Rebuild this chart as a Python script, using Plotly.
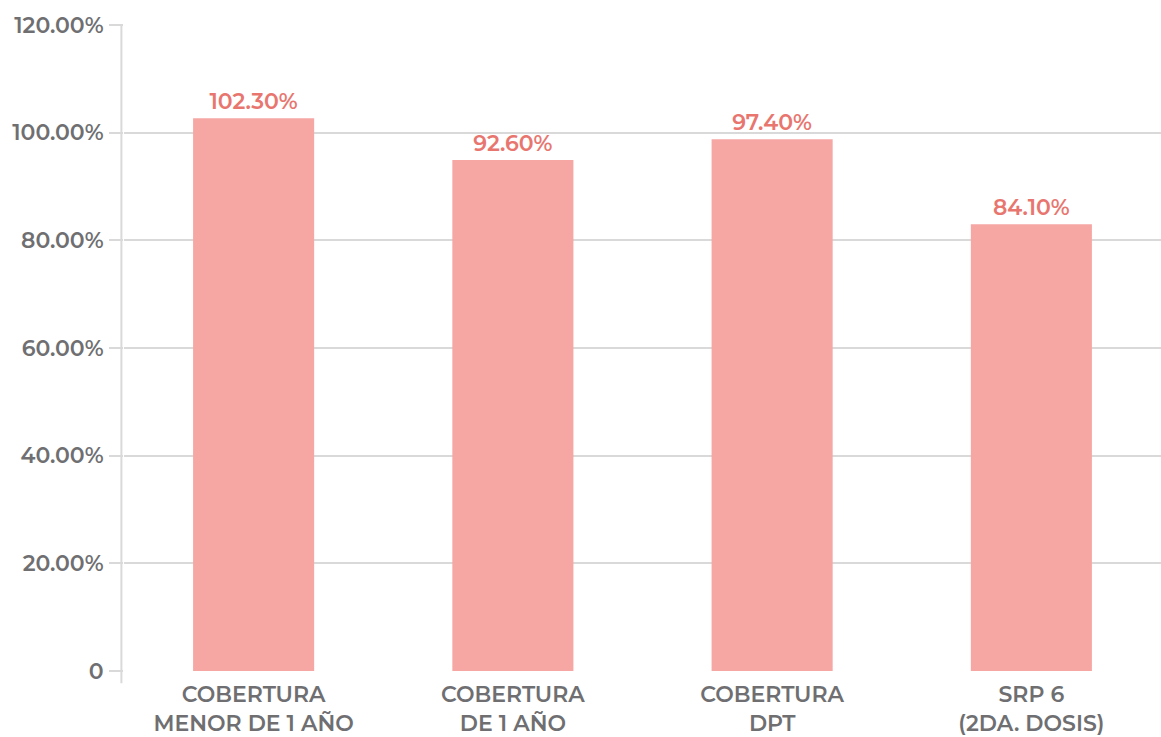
import plotly.graph_objects as go

categories = ["COBERTURA<br>MENOR DE 1 AÑO", "COBERTURA<br>DE 1 AÑO", "COBERTURA<br>DPT", "SRP 6<br>(2DA. DOSIS)"]
bar_heights = [102.7, 94.9, 98.8, 83.0]
bar_labels = ["102.30%", "92.60%", "97.40%", "84.10%"]
y_tickvals = [0, 20, 40, 60, 80, 100, 120]
y_ticktext = ["0", "20.00%", "40.00%", "60.00%", "80.00%", "100.00%", "120.00%"]

FONT = "Montserrat, 'Open Sans', sans-serif"
GRID = "#d9d9d9"
TXT = "#6f6f72"

fig = go.Figure(go.Bar(
    x=categories,
    y=bar_heights,
    text=bar_labels,
    textposition="outside",
    textfont=dict(family=FONT, size=22, color="#e8766f", weight=600),
    marker=dict(color="#f6a7a3", line=dict(width=0)),
    cliponaxis=False,
    hoverinfo="skip",
))

fig.update_layout(
    width=1161, height=737,
    margin=dict(l=124, r=0, t=25, b=66),
    paper_bgcolor="white", plot_bgcolor="white",
    bargap=0.533,
    showlegend=False,
    font=dict(family=FONT, color=TXT),
)
fig.update_yaxes(
    range=[0, 120], automargin=False,
    tickvals=y_tickvals, ticktext=y_ticktext,
    showgrid=True, gridcolor=GRID, gridwidth=2,
    zeroline=False,
    ticks="outside", ticklen=14, tickwidth=2, tickcolor=GRID,
    ticklabelstandoff=1,
    tickfont=dict(family=FONT, size=22, color=TXT, weight=600),
    showline=False,
)
fig.update_xaxes(
    automargin=False,
    showgrid=False, zeroline=False, showline=False, ticks="",
    ticklabelstandoff=8,
    tickfont=dict(family=FONT, size=22, color=TXT, weight=600),
)
fig.add_shape(type="line", xref="paper", yref="y domain",
              x0=-0.0025, x1=-0.0025, y0=1, y1=-0.019,
              line=dict(color=GRID, width=2))

fig.write_html(
    "out.html",
    config={"displayModeBar": False},
    post_script="document.body.style.margin='0';document.body.style.overflow='hidden';",
)
